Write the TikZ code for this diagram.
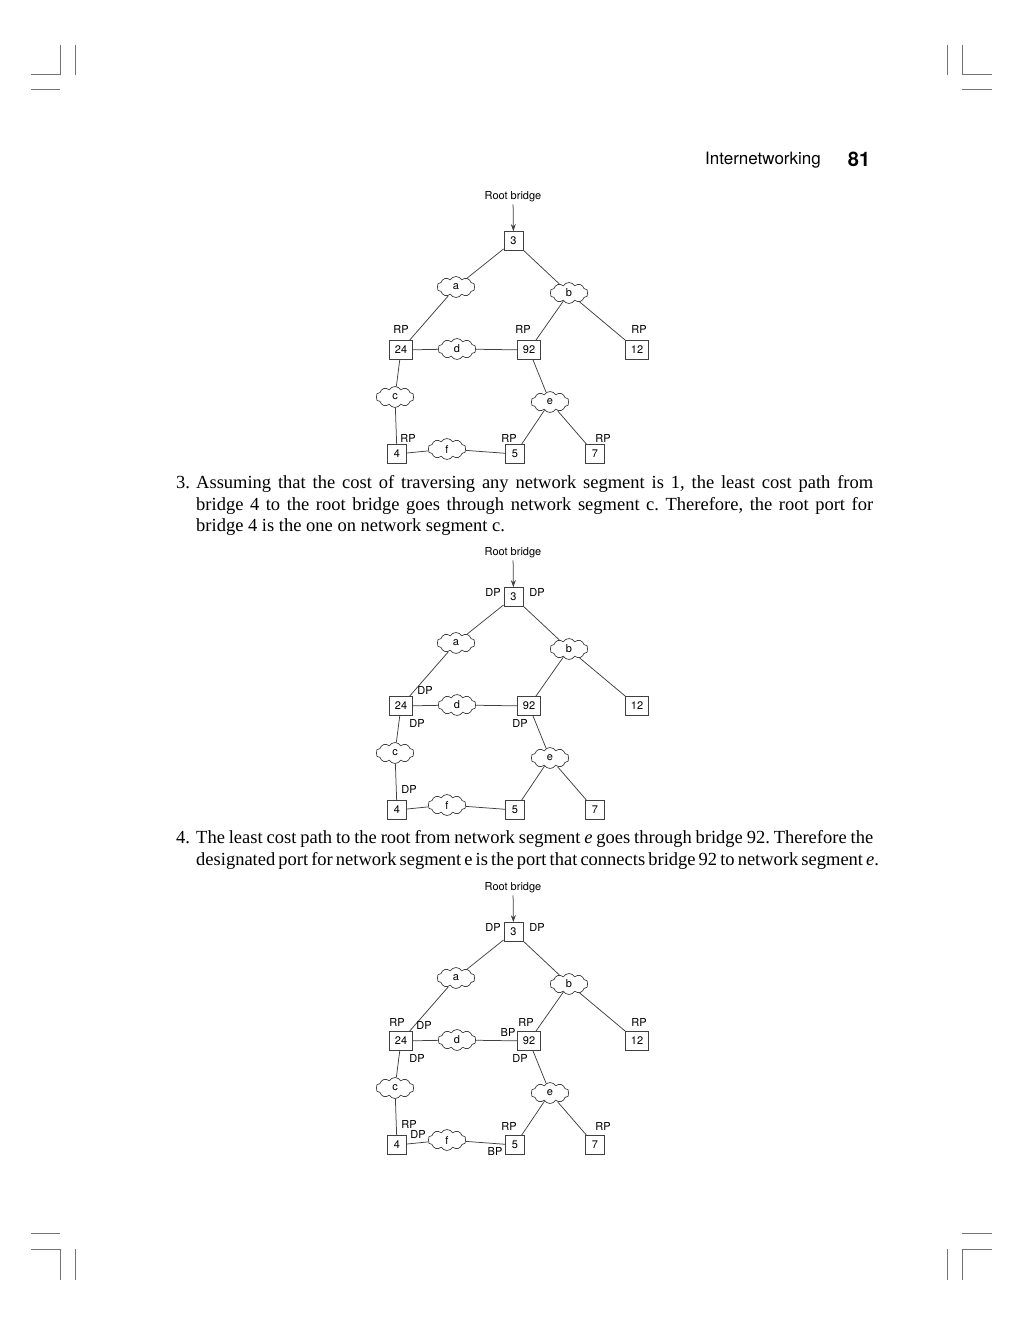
\documentclass[tikz,border=0pt]{standalone}
\usepackage{fontspec}
\setmainfont{Liberation Serif}
\newfontfamily\labfont{TeX Gyre Heros}
\usetikzlibrary{shapes.symbols,arrows.meta}
\frenchspacing

\tikzset{
  lab/.style={font=\labfont\fontsize{11}{13}\selectfont},
  bridge/.style={lab, draw=black!75, line width=0.8pt, fill=white, inner xsep=5.5pt, inner ysep=2pt, minimum width=19pt, minimum height=19pt},
  seg/.style={lab, cloud, cloud puffs=10, cloud puff arc=120, cloud ignores aspect, draw=black!75, line width=0.7pt, fill=white, minimum width=38pt, minimum height=21pt, inner sep=0pt},
  link/.style={draw=black!75, line width=0.75pt},
  port/.style={lab, inner sep=0pt},
  crop/.style={draw=black!55, line width=1pt},
  bodytext/.style={anchor=base west, inner sep=0pt, font=\fontsize{18.5}{21.5}\selectfont},
  headtext/.style={inner sep=0pt, font=\labfont\fontsize{17}{19}\selectfont},
}

\newcommand\bridgenet[3]{%
\begin{scope}[yshift=-#2pt]
  \node[port, inner sep=2pt] (#1root) at (513,197) {Root bridge};
  \node[bridge] (#1b3) at (513.5,241) {3};
  \node[bridge] (#1b24) at (401,350) {24};
  \node[bridge] (#1b92) at (529,350) {92};
  \node[bridge] (#1b12) at (637,350) {12};
  \node[bridge] (#1b4) at (397,454) {4};
  \node[bridge] (#1b5) at (515,454) {5};
  \node[bridge] (#1b7) at (595,454) {7};
  \node[seg] (#1a) at (456,287) {a};
  \node[seg] (#1b) at (569,293) {b};
  \node[seg] (#1d) at (457,349) {d};
  \node[seg] (#1c) at (395,397) {c};
  \node[seg] (#1e) at (550,402) {e};
  \node[seg] (#1f) at (447,449) {f};
  \draw[link, -{Stealth[length=7pt,width=5pt]}] (#1root) -- (#1b3);
  \draw[link] (#1b3) -- (#1a);
  \draw[link] (#1b3) -- (#1b);
  \draw[link] (#1a) -- (#1b24);
  \draw[link] (#1b) -- (#1b92);
  \draw[link] (#1b) -- (#1b12);
  \draw[link] (#1b24) -- (#1d);
  \draw[link] (#1d) -- (#1b92);
  \draw[link] (#1b24) -- (#1c);
  \draw[link] (#1b92) -- (#1e);
  \draw[link] (#1c) -- (#1b4);
  \draw[link] (#1b4) -- (#1f);
  \draw[link] (#1f) -- (#1b5);
  \draw[link] (#1e) -- (#1b5);
  \draw[link] (#1e) -- (#1b7);
  #3
\end{scope}}

\begin{document}
\begin{tikzpicture}[x=1pt,y=-1pt]
  \useasboundingbox[fill=white] (0,0) rectangle (1023,1324);

  % crop marks
  \draw[crop] (31,75) -- (60,75) -- (60,45);
  \draw[crop] (75,45) -- (75,75);
  \draw[crop] (31,90) -- (60,90);
  \draw[crop] (947,45) -- (947,75);
  \draw[crop] (962,45) -- (962,75) -- (992,75);
  \draw[crop] (962,90) -- (992,90);
  \draw[crop] (31,1233) -- (60,1233);
  \draw[crop] (31,1249) -- (60,1249) -- (60,1280);
  \draw[crop] (75,1249) -- (75,1280);
  \draw[crop] (962,1233) -- (992,1233);
  \draw[crop] (992,1249) -- (962,1249) -- (962,1280);
  \draw[crop] (947,1249) -- (947,1280);

  % header
  \node[headtext] (head) at (763,160) {Internetworking};
  \node[inner sep=0pt, font=\labfont\bfseries\fontsize{20}{22}\selectfont] (pagenum) at (859,159) {81};

  % diagram 1
  \bridgenet{A}{0}{%
    \node[port] (Arp24) at (401,329) {RP};
    \node[port] (Arp92) at (523,329) {RP};
    \node[port] (Arp12) at (639,329) {RP};
    \node[port] (Arp4) at (408,438) {RP};
    \node[port] (Arp5) at (509,438) {RP};
    \node[port] (Arp7) at (603,438) {RP};
  }

  % paragraph 3
  \node[bodytext] (n3) at (176,488) {3.};
  \node[bodytext] (p3l1) at (196,488) {\makebox[677pt][s]{Assuming that the cost of traversing any network segment is 1, the least cost path from}};
  \node[bodytext] (p3l2) at (196,510) {\makebox[677pt][s]{bridge 4 to the root bridge goes through network segment c. Therefore, the root port for}};
  \node[bodytext] (p3l3) at (196,531) {bridge 4 is the one on network segment c.};

  % diagram 2
  \bridgenet{B}{356}{%
    \node[port] (Bdp3l) at (493,236) {DP};
    \node[port] (Bdp3r) at (537,236) {DP};
    \node[port] (Bdp24a) at (425,334) {DP};
    \node[port] (Bdp24b) at (417,367) {DP};
    \node[port] (Bdp92) at (520,367) {DP};
    \node[port] (Bdp4) at (409,433) {DP};
  }

  % paragraph 4
  \node[bodytext] (n4) at (176,843) {4.};
  \node[bodytext] (p4l1) at (196,843) {\makebox[677pt][s]{The least cost path to the root from network segment \textit{e} goes through bridge 92. Therefore the}};
  \node[bodytext] (p4l2) at (196,865) {\makebox[677pt][s]{designated port for network segment e is the port that connects bridge 92 to network segment \textit{e}.}};

  % diagram 3
  \bridgenet{C}{691}{%
    \node[port] (Cdp3l) at (493,236) {DP};
    \node[port] (Cdp3r) at (537,236) {DP};
    \node[port] (Crp24) at (397,331) {RP};
    \node[port] (Cdp24a) at (424,334) {DP};
    \node[port] (Cdp24b) at (417,367) {DP};
    \node[port] (Cbp92) at (508,341) {BP};
    \node[port] (Crp92) at (526,331) {RP};
    \node[port] (Cdp92) at (520,367) {DP};
    \node[port] (Crp12) at (639,331) {RP};
    \node[port] (Crp4) at (409,433) {RP};
    \node[port] (Cdp4) at (418,443) {DP};
    \node[port] (Crp5) at (509,435) {RP};
    \node[port] (Cbp5) at (495,460) {BP};
    \node[port] (Crp7) at (603,435) {RP};
  }
\end{tikzpicture}
\end{document}
